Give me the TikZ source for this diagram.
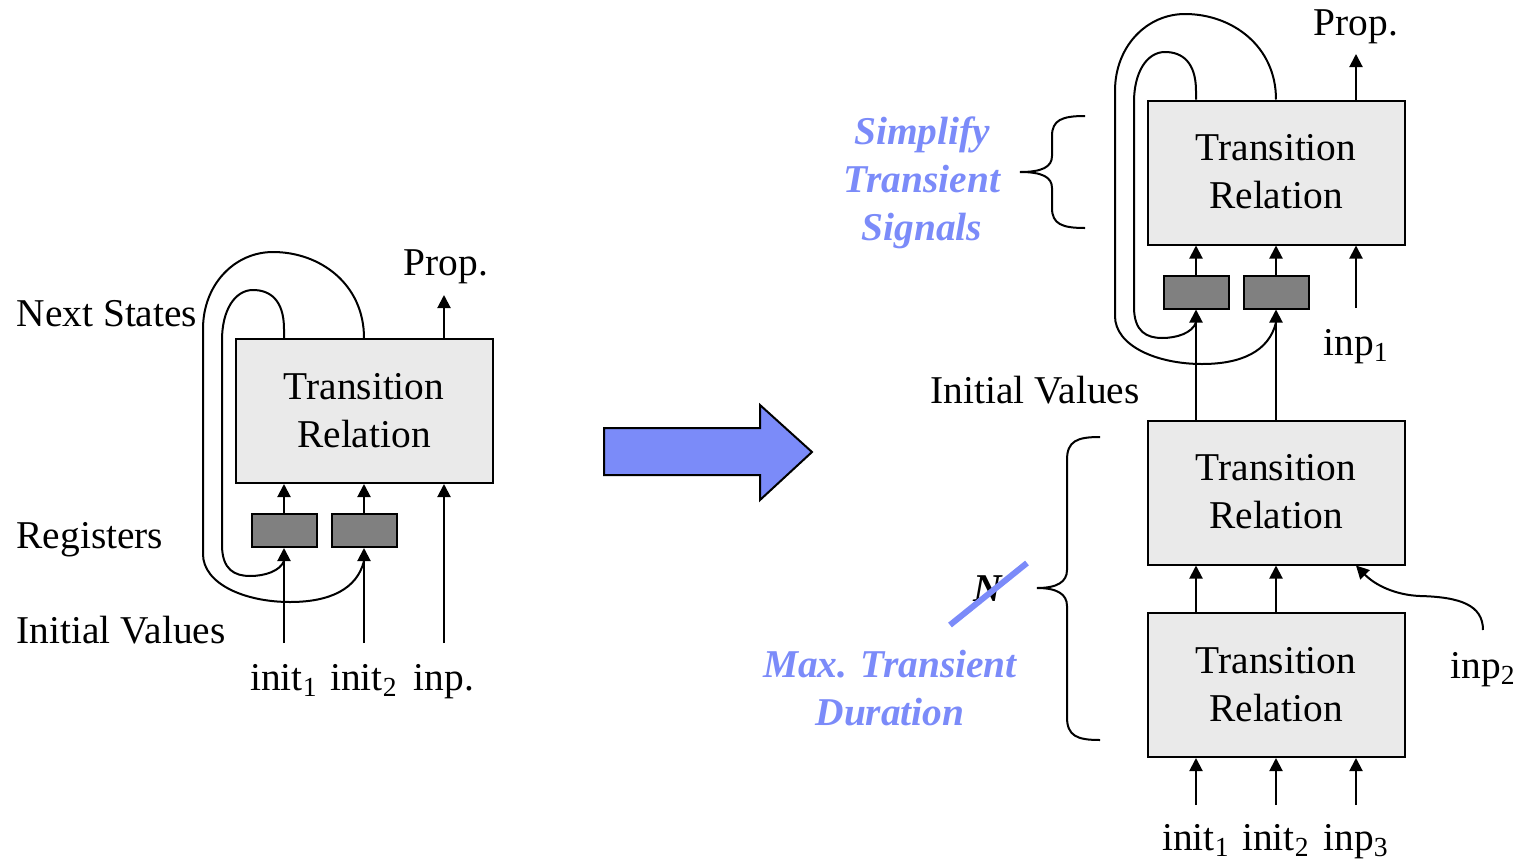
\documentclass[tikz,border=0pt]{standalone}
\usepackage{fontspec}
\setmainfont{Liberation Serif}
\usetikzlibrary{arrows.meta,calc}
\definecolor{periwinkle}{HTML}{7B8BF9}
\definecolor{boxgray}{HTML}{EAEAEA}
\definecolor{reggray}{HTML}{808080}

\begin{document}
\begin{tikzpicture}[x=0.5pt,y=-0.5pt,>={Triangle[length=6.5pt,width=6.5pt]},line width=1pt,
  every node/.style={font=\fontsize{19.7}{24}\selectfont},
  trans/.style={draw,fill=boxgray,minimum width=128.5pt,minimum height=72pt,align=center,inner sep=0pt,text depth=1pt},
  reg/.style={draw,fill=reggray,minimum width=32.5pt,minimum height=16.5pt,inner sep=0pt},
  note/.style={text=periwinkle,font=\fontsize{19.7}{24}\selectfont\bfseries\itshape,align=center}]
  \useasboundingbox (0,0) rectangle (1522,863);

  % single frame: one transition relation with two registers
  \node[trans] (trL) at (364,411) {Transition\\Relation};
  \node[reg] (regL1) at (284,530.5) {};
  \node[reg] (regL2) at (364,530.5) {};
  \coordinate (inL1) at (284,643);
  \coordinate (inL2) at (364,643);
  \coordinate (inL3) at (444,643);
  \coordinate (pL) at (444,295);
  \node[anchor=base] (propL) at (446,275) {Prop.};
  \node[anchor=base] (initL1) at (284,690) {init\textsubscript{1}};
  \node[anchor=base] (initL2) at (364,690) {init\textsubscript{2}};
  \node[anchor=base] (inpL) at (444,690) {inp.};
  \node[anchor=base west] (nextL) at (9,326) {Next States};
  \node[anchor=base west] (regsL) at (9,548) {Registers};
  \node[anchor=base west] (initvL) at (9,643) {Initial Values};

  \draw[->] (inL1) -- (regL1);
  \draw[->] (inL2) -- (regL2);
  \draw[->] (regL1) -- (regL1 |- trL.south);
  \draw[->] (regL2) -- (regL2 |- trL.south);
  \draw[->] (inL3) -- (inL3 |- trL.south);
  \draw[->] (trL.north -| pL) -- (pL);
  % next-state feedback
  \draw (regL1 |- trL.north) -- (284,329) .. controls (284,300) and (270,290) .. (253,290)
    .. controls (235,290) and (222,310) .. (222,340) -- (222,545)
    .. controls (222,570) and (235,576) .. (250,576)
    .. controls (265,576) and (280,571) .. ($(regL1.south)+(0,13)$);
  \draw (regL2 |- trL.north) .. controls (364,284) and (320,252) .. (273,252)
    .. controls (235,252) and (203,284) .. (203,329) -- (203,554)
    .. controls (203,584) and (245,602) .. (290,602)
    .. controls (330,602) and (357,589) .. ($(regL2.south)+(0,13)$);

  % big arrow
  \filldraw[fill=periwinkle,draw=black] (604,428) -- (760,428) -- (760,405) -- (812,452)
    -- (760,500) -- (760,475) -- (604,475) -- cycle;

  % unrolled frames
  \node[trans] (trT) at (1276,172.5) {Transition\\Relation};
  \node[trans] (trM) at (1276,492.5) {Transition\\Relation};
  \node[trans] (trB) at (1276,685) {Transition\\Relation};
  \node[reg] (regR1) at (1196,292) {};
  \node[reg] (regR2) at (1276,292) {};
  \coordinate (pR) at (1356,54);
  \coordinate (inR1) at (1356,308);
  \coordinate (inR2) at (1483,630);
  \coordinate (bR1) at (1196,805);
  \coordinate (bR2) at (1276,805);
  \coordinate (bR3) at (1356,805);
  \node[anchor=base] (propR) at (1356,35) {Prop.};
  \node[anchor=base] (inpR1) at (1356,355) {inp\textsubscript{1}};
  \node[anchor=base] (inpR2) at (1483,678) {inp\textsubscript{2}};
  \node[anchor=base] (initR1) at (1196,850) {init\textsubscript{1}};
  \node[anchor=base] (initR2) at (1276,850) {init\textsubscript{2}};
  \node[anchor=base] (inpR3) at (1356,850) {inp\textsubscript{3}};
  \node[anchor=base] (initvR) at (1035,403) {Initial Values};

  \draw[->] (trT.north -| pR) -- (pR);
  \draw[->] (inR1) -- (inR1 |- trT.south);
  \draw[->] (regR1) -- (regR1 |- trT.south);
  \draw[->] (regR2) -- (regR2 |- trT.south);
  \draw[->] (trM.north -| regR1) -- (regR1);
  \draw[->] (trM.north -| regR2) -- (regR2);
  \draw[->] (trB.north -| regR1) -- (regR1 |- trM.south);
  \draw[->] (trB.north -| regR2) -- (regR2 |- trM.south);
  \draw[->] (bR1) -- (bR1 |- trB.south);
  \draw[->] (bR2) -- (bR2 |- trB.south);
  \draw[->] (bR3) -- (bR3 |- trB.south);
  \draw[->] (inR2) .. controls (1483,605) and (1460,597) .. (1420,596)
    .. controls (1395,595) and (1375,585) .. (trM.south -| pR);
  \draw (regR1 |- trT.north) -- (1196,91) .. controls (1196,62) and (1182,52) .. (1165,52)
    .. controls (1147,52) and (1134,72) .. (1134,102) -- (1134,307)
    .. controls (1134,332) and (1147,338) .. (1162,338)
    .. controls (1177,338) and (1192,333) .. ($(regR1.south)+(0,13)$);
  \draw (regR2 |- trT.north) .. controls (1276,46) and (1232,14) .. (1185,14)
    .. controls (1147,14) and (1115,46) .. (1115,91) -- (1115,316)
    .. controls (1115,346) and (1157,364) .. (1202,364)
    .. controls (1242,364) and (1269,351) .. ($(regR2.south)+(0,13)$);

  % braces and notes
  \draw (1085,116) .. controls (1062,116) and (1052,120) .. (1052,136) -- (1052,156)
    .. controls (1052,167) and (1042,172) .. (1020,172)
    .. controls (1042,172) and (1052,177) .. (1052,188) -- (1052,208)
    .. controls (1052,224) and (1062,228) .. (1085,228);
  \draw (1100,437) .. controls (1077,437) and (1067,441) .. (1067,460) -- (1067,570)
    .. controls (1067,582) and (1057,588) .. (1037,588)
    .. controls (1057,588) and (1067,594) .. (1067,606) -- (1067,717)
    .. controls (1067,736) and (1077,740) .. (1100,740);
  \node[note] (simp) at (922,183) {Simplify\\Transient\\Signals};
  \node[note] (maxd) at (890,688) {Max. Transient\\Duration};
  \node (bigN) at (988,589) {\bfseries\itshape N};
  \draw[periwinkle,line width=3pt] (950,625) -- (1027,563);
\end{tikzpicture}
\end{document}
